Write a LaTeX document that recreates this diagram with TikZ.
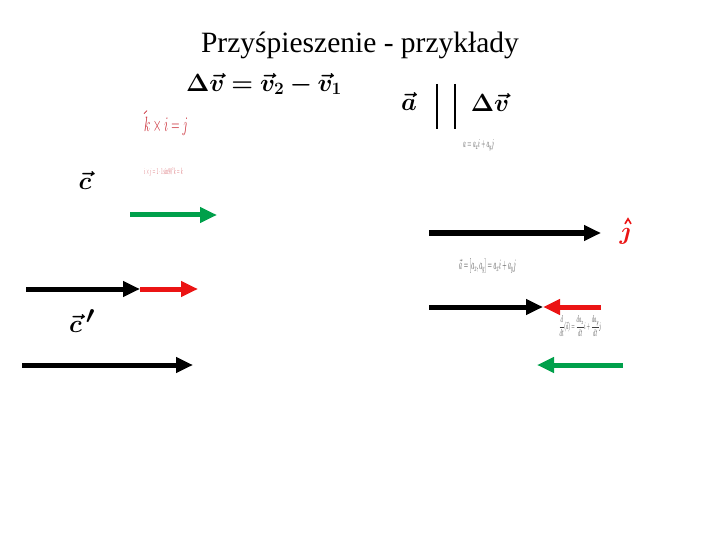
\documentclass[tikz,border=0pt]{standalone}
\usepackage{fontspec}
\usepackage{amsmath,bm}
\setmainfont{Liberation Serif}
\usetikzlibrary{arrows.meta}
\definecolor{vgreen}{RGB}{0,160,75}
\definecolor{vred}{RGB}{235,20,20}
\definecolor{tred}{RGB}{200,40,50}
\tikzset{
  vec/.style={line width=5pt,-{Triangle[length=17pt,width=15pt]}},
  lbl/.style={inner sep=0pt},
}
\begin{document}
\begin{tikzpicture}[x=1pt,y=-1pt]
\useasboundingbox (0,0) rectangle (720,540);
% title
\node[lbl,font=\fontsize{29.5}{34}\selectfont] (title) at (360,45) {Przyśpieszenie - przykłady};
% equations
\node[lbl,font=\fontsize{25}{30}\selectfont] (dv) at (264,84) {$\bm{\Delta\vec{v}=\vec{v}_2-\vec{v}_1}$};
\node[lbl,font=\fontsize{30}{34}\selectfont] (a) at (409,101) {$\bm{\vec{a}}$};
\node[lbl,font=\fontsize{30}{34}\selectfont] (dv2) at (490,102) {$\bm{\Delta\vec{v}}$};
\coordinate (p1t) at (437,84); \coordinate (p1b) at (437,129);
\coordinate (p2t) at (455,84); \coordinate (p2b) at (455,129);
\draw[line width=1.3pt] (p1t) -- (p1b);
\draw[line width=1.3pt] (p2t) -- (p2b);
% red small texts
\node[lbl,text=tred,font=\fontsize{20}{22}\selectfont,anchor=west] (kxi) at (144,126) {\scalebox{0.55}[1]{$k\times i=j$}};
\draw[tred,line width=0.8pt] ([xshift=0pt,yshift=3pt]kxi.north west) -- ++(3,-3);
\node[lbl,text=tred!70,font=\fontsize{9}{10}\selectfont,anchor=west] (ixj) at (144,172) {\scalebox{0.4}[1]{$i\times j=1\cdot1\sin 90^\circ k=k$}};
% vector labels
\node[lbl,font=\fontsize{34}{38}\selectfont] (c) at (85,180) {$\bm{\vec{c}}$};
\node[lbl,font=\fontsize{34}{38}\selectfont] (cp) at (82,321) {$\bm{\vec{c}\,'}$};
\node[lbl,text=vred,font=\fontsize{26}{30}\selectfont] (j) at (625,236) {$\bm{\jmath}$};
\draw[vred,line width=1.6pt] ([xshift=0pt,yshift=4pt]j.north) -- ++(3,-5) -- ++(3,5);
% gray small texts
\node[lbl,text=black!75,font=\fontsize{12}{14}\selectfont,anchor=west] (ax) at (463,145) {\scalebox{0.45}[1]{$a=a_x i+a_y j$}};
\node[lbl,text=black!75,font=\fontsize{14}{16}\selectfont,anchor=west] (avec) at (459,266) {\scalebox{0.4}[1]{$\vec{a}=[a_x,a_y]=a_x i+a_y j$}};
\node[lbl,text=black!75,font=\fontsize{10}{12}\selectfont,anchor=west] (ddt) at (559,326) {\scalebox{0.45}[1]{$\dfrac{d}{dt}(\vec{a})=\dfrac{da_x}{dt}i+\dfrac{da_y}{dt}j$}};
% left arrows
\coordinate (g1s) at (130,215); \coordinate (g1e) at (217,215);
\draw[vec,vgreen] (g1s) -- (g1e);
\coordinate (b1s) at (26,289); \coordinate (b1e) at (140,289);
\coordinate (r1e) at (198,289);
\draw[vec,vred] (b1e) -- (r1e);
\draw[vec,black] (b1s) -- (b1e);
\coordinate (b2s) at (22,365); \coordinate (b2e) at (193,365);
\draw[vec,black] (b2s) -- (b2e);
% right arrows
\coordinate (b3s) at (429,233); \coordinate (b3e) at (601,233);
\draw[vec,black] (b3s) -- (b3e);
\coordinate (b4s) at (429,307); \coordinate (b4e) at (543,307);
\coordinate (r2s) at (601,307);
\draw[vec,black] (b4s) -- (b4e);
\draw[vec,vred] (r2s) -- (b4e);
\coordinate (g2s) at (623,365); \coordinate (g2e) at (537,365);
\draw[vec,vgreen] (g2s) -- (g2e);
\end{tikzpicture}
\end{document}
